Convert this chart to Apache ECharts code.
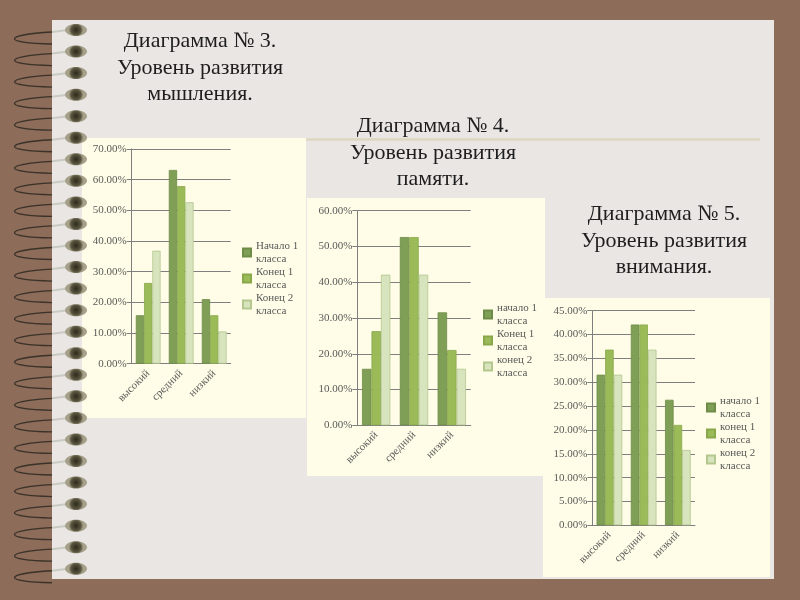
<!DOCTYPE html>
<html>
<head>
<meta charset="utf-8">
<title>Диаграммы</title>
<script src="https://cdn.jsdelivr.net/npm/echarts@6/dist/echarts.min.js"></script>
<style>
html, body { margin: 0; padding: 0; background: #8e6c5a; }
#slide { width: 800px; height: 600px; }
</style>
</head>
<body>
<div id="slide"></div>
<script>
// категории и значения (%)
var categories = ['высокий', 'средний', 'низкий'];

// диаграмма 3 - мышление
var thinkStart = [15.79, 63.16, 21.05];
var thinkEnd1 = [26.32, 57.89, 15.79];
var thinkEnd2 = [36.84, 52.63, 10.53];

// диаграмма 4 - память
var memStart = [15.79, 52.63, 31.58];
var memEnd1 = [26.32, 52.63, 21.05];
var memEnd2 = [42.11, 42.11, 15.79];

// диаграмма 5 - внимание
var attStart = [31.58, 42.11, 26.32];
var attEnd1 = [36.84, 42.11, 21.05];
var attEnd2 = [31.58, 36.84, 15.79];

var names1 = ['Начало 1\nкласса', 'Конец 1\nкласса', 'Конец 2\nкласса'];
var names2 = ['начало 1\nкласса', 'Конец 1\nкласса', 'конец 2\nкласса'];
var names3 = ['начало 1\nкласса', 'конец 1\nкласса', 'конец 2\nкласса'];

var yMax = [70, 60, 45];
var yStep = [10, 10, 5];

var titles = [
    'Диаграмма № 3.\nУровень развития\nмышления.',
    'Диаграмма № 4.\nУровень развития\nпамяти.',
    'Диаграмма № 5.\nУровень развития\nвнимания.'
];

var barColors = ['#7f9e56', '#9bbb59', '#d7e4bd'];
var barBorders = ['#6e8c48', '#89a84c', '#b3c78f'];
var serif = '"Liberation Serif", "Times New Roman", serif';

var slide = echarts.init(document.getElementById('slide'));

// фон: бумага, пружина, рамки диаграмм
var graphics = [
    {type: 'rect', z: -20, shape: {x: 0, y: 0, width: 800, height: 600}, style: {fill: '#8e6c5a'}},
    {type: 'rect', z: -18, shape: {x: 52, y: 20, width: 722, height: 559}, style: {fill: '#eae6e3'}},
    {type: 'line', z: -17, shape: {x1: 300, y1: 139.5, x2: 760, y2: 139.5}, style: {stroke: '#ddd6c0', lineWidth: 2.5}},
    {type: 'rect', z: -16, shape: {x: 82, y: 138, width: 224, height: 280}, style: {fill: '#fffde7'}},
    {type: 'rect', z: -15, shape: {x: 307, y: 198, width: 238, height: 278}, style: {fill: '#fffde7'}},
    {type: 'rect', z: -14, shape: {x: 543, y: 298, width: 227, height: 279}, style: {fill: '#fffde7'}}
];
for (var r = 0; r < 26; r++) {
    var cy = 30 + r * 21.55;
    graphics.push({
        type: 'bezierCurve', z: -19,
        shape: {x1: 52, y1: cy + 2, cpx1: 2, cpy1: cy + 5, cpx2: 2, cpy2: cy + 13, x2: 52, y2: cy + 14},
        style: {stroke: '#3b3329', lineWidth: 1.3, fill: null}
    });
    graphics.push({
        type: 'line', z: -13,
        shape: {x1: 52, y1: cy + 2, x2: 68, y2: cy},
        style: {stroke: '#c9cbc2', lineWidth: 2}
    });
    graphics.push({
        type: 'ellipse', z: -12,
        shape: {cx: 76, cy: cy, rx: 11, ry: 6},
        style: {
            fill: new echarts.graphic.RadialGradient(0.5, 0.5, 0.6, [
                {offset: 0, color: '#2d2a1c'},
                {offset: 0.7, color: '#5a5640'},
                {offset: 1, color: '#a6a08a'}
            ])
        }
    });
}

var grids = [
    {left: 131.7, top: 149, width: 99, height: 214.7},
    {left: 357.3, top: 210.7, width: 113.4, height: 214.6},
    {left: 592.3, top: 310.7, width: 102.7, height: 214.6}
];
var titlePos = [[195, 23], [428, 108], [659, 196]];
var legendPos = [[242, 240], [483, 302], [706, 395]];
var allNames = [names1, names2, names3];
var allData = [
    [thinkStart, thinkEnd1, thinkEnd2],
    [memStart, memEnd1, memEnd2],
    [attStart, attEnd1, attEnd2]
];

var xAxes = [], yAxes = [], series = [], legends = [], titleList = [];
for (var i = 0; i < 3; i++) {
    titleList.push({
        text: titles[i],
        left: titlePos[i][0],
        top: titlePos[i][1],
        textAlign: 'center',
        textStyle: {fontFamily: serif, fontSize: 22, fontWeight: 'normal', color: '#1e1e1e', lineHeight: 26.5}
    });
    xAxes.push({
        type: 'category',
        gridIndex: i,
        data: categories,
        axisLine: {lineStyle: {color: '#7f7f7f'}},
        axisTick: {length: 5, lineStyle: {color: '#7f7f7f'}},
        axisLabel: {rotate: 45, margin: 8, fontFamily: serif, fontSize: 11, color: '#595959'}
    });
    yAxes.push({
        type: 'value',
        gridIndex: i,
        min: 0,
        max: yMax[i],
        interval: yStep[i],
        axisLine: {show: true, lineStyle: {color: '#7f7f7f'}},
        axisTick: {show: true, length: 5, lineStyle: {color: '#7f7f7f'}},
        splitLine: {lineStyle: {color: '#7f7f7f', width: 1}},
        axisLabel: {
            margin: 5,
            fontFamily: serif,
            fontSize: 11,
            color: '#595959',
            formatter: function (v) { return v.toFixed(2) + '%'; }
        }
    });
    for (var s = 0; s < 3; s++) {
        series.push({
            name: allNames[i][s],
            type: 'bar',
            xAxisIndex: i,
            yAxisIndex: i,
            data: allData[i][s],
            barGap: '0%',
            barCategoryGap: '25%',
            itemStyle: {color: barColors[s], borderColor: barBorders[s], borderWidth: 0.8}
        });
    }
    legends.push({
        data: allNames[i],
        orient: 'vertical',
        left: legendPos[i][0],
        top: legendPos[i][1],
        padding: 0,
        icon: 'rect',
        itemWidth: 8,
        itemHeight: 8,
        itemGap: 1,
        selectedMode: false,
        textStyle: {fontFamily: serif, fontSize: 11, color: '#595959', lineHeight: 12.5}
    });
}

var slide_option = {
    animation: false,
    graphic: graphics,
    title: titleList,
    grid: grids,
    xAxis: xAxes,
    yAxis: yAxes,
    legend: legends,
    series: series
};
slide.setOption(slide_option);

window.addEventListener('resize', function () {
    slide.resize();
});
</script>
</body>
</html>
